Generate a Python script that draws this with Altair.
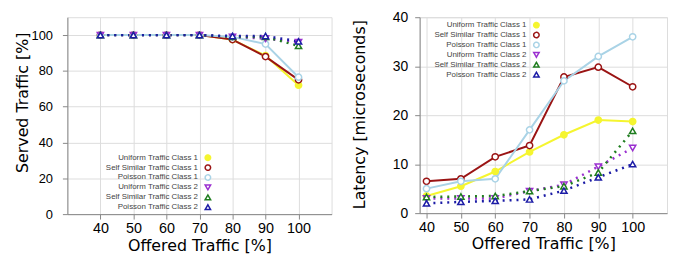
import altair as alt
import pandas as pd

# ---------------- data ----------------
offered = [40, 50, 60, 70, 80, 90, 100]

series = [
    "Uniform Traffic Class 1",
    "Self Similar Traffic Class 1",
    "Poisson Traffic Class 1",
    "Uniform Traffic Class 2",
    "Self Similar Traffic Class 2",
    "Poisson Traffic Class 2",
]

# Served traffic [%]
served_uniform_c1 = [100, 100, 100, 100, 97.5, 88.5, 72]
served_selfsim_c1 = [100, 100, 100, 100, 97.5, 88, 75]
served_poisson_c1 = [100, 100, 100, 100, 99, 95, 76.5]
served_uniform_c2 = [100, 100, 100, 100, 99, 98, 96]
served_selfsim_c2 = [100, 100, 100, 100, 99, 99, 94]
served_poisson_c2 = [100, 100, 100, 100, 99.5, 99.5, 96.5]

# Latency [microseconds]
lat_uniform_c1 = [3.5, 5.5, 8.5, 12.5, 16, 19, 18.7]
lat_selfsim_c1 = [6.5, 7, 11.5, 13.8, 27.8, 29.8, 25.8]
lat_poisson_c1 = [5, 6.5, 7, 17, 27, 32, 36]
lat_uniform_c2 = [3, 3, 3, 4.5, 5.8, 9.5, 13.3]
lat_selfsim_c2 = [3.3, 3.4, 3.5, 4.5, 5.5, 8.3, 16.8]
lat_poisson_c2 = [2, 2.3, 2.5, 2.8, 4.6, 7.3, 10]

colors = ["#f5f530", "#9a1414", "#a9d3e6", "#9a2fd0", "#1f7d1f", "#1c1ca6"]
fills = ["#f5f530", "#ffffff", "#ffffff", "#ffffff", "#ffffff", "#ffffff"]
shapes = ["circle", "circle", "circle", "triangle-down", "triangle-up", "triangle-up"]

served = [served_uniform_c1, served_selfsim_c1, served_poisson_c1,
          served_uniform_c2, served_selfsim_c2, served_poisson_c2]
latency = [lat_uniform_c1, lat_selfsim_c1, lat_poisson_c1,
           lat_uniform_c2, lat_selfsim_c2, lat_poisson_c2]


def long_df(values):
    rows = []
    for s, vals in zip(series, values):
        for x, v in zip(offered, vals):
            rows.append({"series": s, "x": x, "y": v, "cls": s[-1]})
    return pd.DataFrame(rows)


FONT = "Liberation Sans"
TFONT = "DejaVu Sans"


def panel(df, xdom, ydom, yticks, ytitle, w, h, lx, ly, ylab_size, ylab_pad,
          ytitle_pad, ytitle_y, xtitle_pad):
    legend = alt.Legend(
        title=None, orient="none", legendX=lx, legendY=ly,
        labelFont=FONT, labelFontSize=8, labelColor="#444",
        labelAlign="right", labelOffset={"expr": "-14"}, symbolSize=30,
        symbolStrokeWidth=1.5, rowPadding={"expr": "-3"}, padding=0,
        symbolDash=[1, 0],
    )
    xenc = alt.X("x:Q", scale=alt.Scale(domain=xdom, nice=False, zero=False),
                 axis=alt.Axis(values=offered, title="Offered Traffic [%]",
                               labelFontSize=14.5, labelPadding=3,
                               titleFont=TFONT, titleFontSize=16,
                               titleFontWeight=400,
                               titlePadding=xtitle_pad))
    yenc = alt.Y("y:Q", scale=alt.Scale(domain=ydom, nice=False),
                 axis=alt.Axis(values=yticks, title=ytitle,
                               labelFontSize=ylab_size,
                               titleFont=TFONT, titleFontSize=16,
                               titleFontWeight=400, titleY=ytitle_y,
                               labelPadding=ylab_pad, titlePadding=ytitle_pad))
    color = alt.Color("series:N", scale=alt.Scale(domain=series, range=colors),
                      legend=legend)
    base = alt.Chart(df)
    lines_c1 = base.transform_filter(alt.datum.cls == "1").mark_line(
        strokeWidth=2).encode(x=xenc, y=yenc, color=color, order=alt.Order("x:Q"))
    lines_c2 = base.transform_filter(alt.datum.cls == "2").mark_line(
        strokeWidth=2.5, strokeDash=[2, 5]).encode(
        x=xenc, y=yenc, color=color, order=alt.Order("x:Q"))
    points = base.mark_point(size=40, strokeWidth=1.5, opacity=1).encode(
        x=xenc, y=yenc, color=color,
        shape=alt.Shape("series:N", scale=alt.Scale(domain=series, range=shapes),
                        legend=legend),
        fill=alt.Fill("series:N", scale=alt.Scale(domain=series, range=fills),
                      legend=None),
    )
    return alt.layer(lines_c1, lines_c2, points).properties(width=w, height=h)


left = panel(long_df(served), [30, 110], [0, 110], [0, 20, 40, 60, 80, 100],
             "Served Traffic [%]", 267, 199, 138, 138, 13, 10, 1, 86, 2)
right = panel(long_df(latency), [38, 110], [0, 40], [0, 10, 20, 30, 40],
              "Latency [microseconds]", 250, 198, 114, 4, 14, 7, 25, 98, 1)

chart = alt.hconcat(left, right, spacing=18).resolve_scale(
    color="independent", shape="independent", fill="independent"
).resolve_legend(
    color="independent", shape="independent", fill="independent"
).properties(
    padding={"left": 5, "top": 0, "right": 0, "bottom": 0}
).configure_axis(
    labelFont=FONT, titleFont=TFONT, labelColor="#222", titleColor="#222",
    titleFontWeight=400, domainColor="#555",
    ticks=False, grid=False,
).configure_view(stroke="#aaaaaa").configure(background="white")

chart.save("out.html", embed_options={"renderer": "svg", "actions": False})
